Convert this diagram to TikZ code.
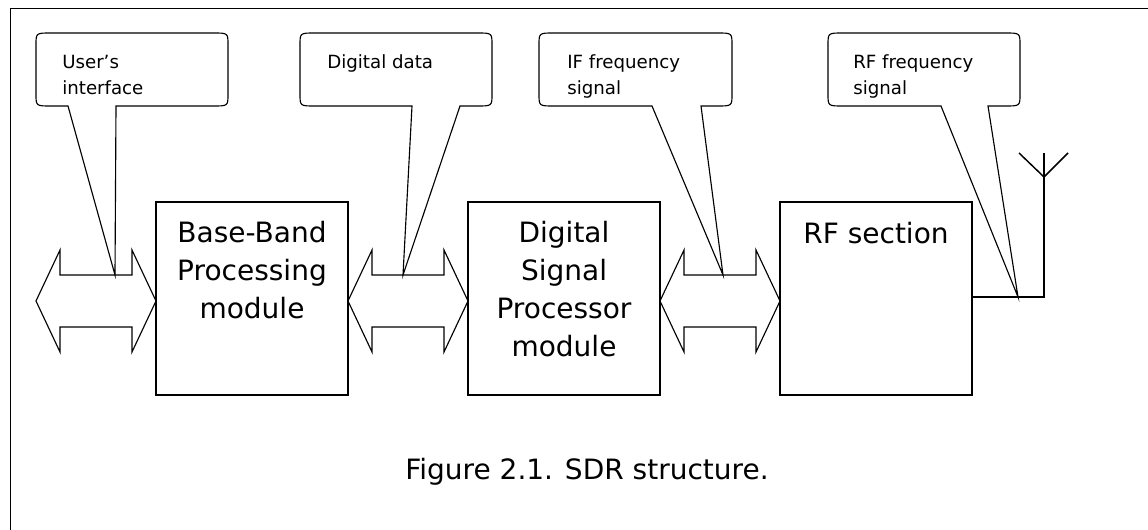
\documentclass[tikz,border=0pt]{standalone}
\usepackage{fontspec}
\setmainfont{DejaVu Sans}
\usetikzlibrary{calc}
\tikzset{
  frame/.style={line width=1.3pt},
  blk/.style={draw, line width=1.15pt, inner sep=0pt, minimum width=144pt, minimum height=144.75pt},
  blktext/.style={anchor=north, align=center, inner sep=0pt, font=\fontsize{21}{28.5}\selectfont},
  calltext/.style={anchor=north west, align=left, inner sep=0pt, font=\fontsize{13.65}{19.5}\selectfont},
  callout/.style={line width=0.85pt, line join=miter},
  dbl/.style={line width=0.85pt, line join=miter},
  ant/.style={line width=1.1pt}
}
% callout: #1 left, #2 top, #3 right, #4 bottom, #5 tail left x, #6 tail right x, #7 tip coordinate
\newcommand\mycallout[7]{%
  \draw[callout] (#7) -- (#5,#4) -- ({#1+15},#4) .. controls (#1,#4) .. (#1,{#4-12})
    -- (#1,{#2+12}) .. controls (#1,#2) .. ({#1+15},#2) -- ({#3-15},#2)
    .. controls (#3,#2) .. (#3,{#2+12}) -- (#3,{#4-12}) .. controls (#3,#4) .. ({#3-15},#4)
    -- (#6,#4) -- cycle;}
% double arrow between x=#1 and x=#2
\newcommand\mydbl[2]{%
  \draw[dbl] (#1,301) -- ({#1+24},250) -- ({#1+24},275) -- ({#2-24},275) -- ({#2-24},250)
    -- (#2,301) -- ({#2-24},352) -- ({#2-24},327) -- ({#1+24},327) -- ({#1+24},352) -- cycle;}
\begin{document}
\begin{tikzpicture}[x=0.75pt,y=-0.75pt]
\useasboundingbox (0,0) rectangle (1148,530);
% frame
\draw[frame] (10.5,530) -- (10.5,8.5) -- (1148,8.5);
% blocks
\node[blk] (bb) at (252,298.5) {};
\node[blk] (dsp) at (564,298.5) {};
\node[blk] (rf) at (876,298.5) {};
\node[blktext] (bbt) at (252,221) {Base-Band\\Processing\\module};
\node[blktext] (dspt) at (564,221) {Digital\\Signal\\Processor\\module};
\node[blktext] (rft) at (876,222) {RF section};
% double arrows
\mydbl{36}{156}
\mydbl{348}{468}
\mydbl{660}{780}
% antenna
\coordinate (antbase) at (1044,297);
\coordinate (antjoin) at (1044,177);
\draw[ant] (rf.east |- antbase) -- (antbase) -- (1044,153);
\draw[ant] (1019,153) -- (antjoin) -- (1068,153);
% callout tips
\coordinate (tip1) at (115,275);
\coordinate (tip2) at (403,275);
\coordinate (tip3) at (723,275);
\coordinate (tip4) at (1018,297);
% callouts
\mycallout{36}{33}{228}{106}{68}{116}{tip1}
\mycallout{300}{33}{492}{106}{412}{460}{tip2}
\mycallout{539}{33}{732}{106}{652}{701}{tip3}
\mycallout{828}{33}{1020}{106}{941}{988}{tip4}
\node[calltext] (c1) at (62,54.5) {User’s\\interface};
\node[calltext] (c2) at (327,54.5) {Digital data};
\node[calltext] (c3) at (567,54.5) {IF frequency\\signal};
\node[calltext] (c4) at (853,54.5) {RF frequency\\signal};
% caption
\node[inner sep=0pt, font=\fontsize{21}{25}\selectfont] (cap) at (587,472) {Figure 2.1. SDR structure.};
\end{tikzpicture}
\end{document}
